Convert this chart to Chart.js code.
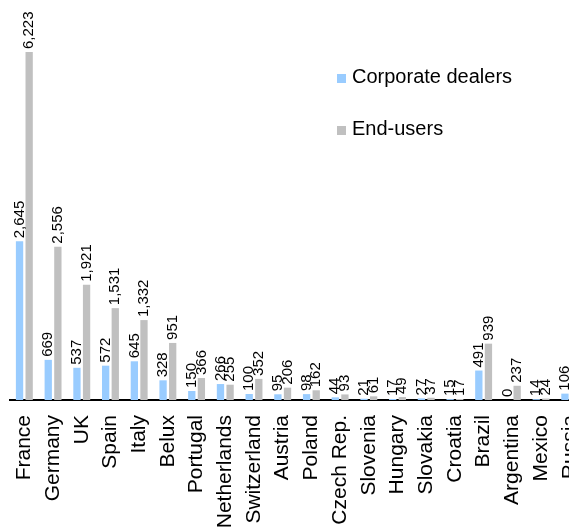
<!DOCTYPE html>
<html>
<head>
<meta charset="utf-8">
<script src="https://cdn.jsdelivr.net/npm/chart.js@4"></script>
<style>
  html, body { margin: 0; padding: 0; background: #fff; overflow: hidden; }
  #wrap { position: relative; width: 602px; height: 560px; }
  #legend { position: absolute; left: 337px; top: 0; font-family: Arial, "Liberation Sans", sans-serif; font-size: 20px; color: #000; }
  .item { position: absolute; left: 0; white-space: nowrap; display: flex; align-items: center; }
  .box { width: 9px; height: 9px; margin-right: 6px; margin-top: 3px; }
</style>
</head>
<body>
<div id="wrap">
  <canvas id="chart" width="602" height="560"></canvas>
  <div id="legend"></div>
</div>
<script>
// countries and contract counts per client type
const countries = ["France", "Germany", "UK", "Spain", "Italy", "Belux", "Portugal", "Netherlands",
  "Switzerland", "Austria", "Poland", "Czech Rep.", "Slovenia", "Hungary", "Slovakia", "Croatia",
  "Brazil", "Argentina", "Mexico", "Russia"];
const corporateDealers = [2645, 669, 537, 572, 645, 328, 150, 266, 100, 95, 98, 44, 21, 17, 27, 15, 491, 0, 14, 106];
const endUsers = [6223, 2556, 1921, 1531, 1332, 951, 366, 255, 352, 206, 162, 93, 61, 49, 37, 17, 939, 237, 24, 150];
const seriesNames = ["Corporate dealers", "End-users"];
const seriesColors = ["#99CCFF", "#C0C0C0"];
const yMax = 5800; // France end-users runs off the top

// value labels sitting on top of each bar, written upwards
const barLabels = {
  id: "barLabels",
  afterDatasetsDraw(chart) {
    const ctx = chart.ctx;
    const top = chart.chartArea.top;
    ctx.save();
    ctx.font = "15px Arial, 'Liberation Sans', sans-serif";
    ctx.fillStyle = "#000";
    ctx.textAlign = "left";
    ctx.textBaseline = "middle";
    chart.data.datasets.forEach((ds, i) => {
      chart.getDatasetMeta(i).data.forEach((bar, j) => {
        const y = Math.max(bar.y, top) - 3;
        ctx.save();
        ctx.translate(bar.x, y);
        ctx.rotate(-Math.PI / 2);
        ctx.fillText(ds.data[j].toLocaleString("en-US"), 0, 0);
        ctx.restore();
      });
    });
    ctx.restore();
  }
};

const chart = new Chart(document.getElementById("chart"), {
  type: "bar",
  data: {
    labels: countries,
    datasets: [
      { label: seriesNames[0], data: corporateDealers, backgroundColor: seriesColors[0] },
      { label: seriesNames[1], data: endUsers, backgroundColor: seriesColors[1] }
    ]
  },
  options: {
    responsive: false,
    animation: false,
    devicePixelRatio: 1,
    categoryPercentage: 0.67,
    barPercentage: 0.76,
    layout: { padding: { left: 10, right: 2, top: 52, bottom: 0 } },
    plugins: {
      legend: { display: false },
      tooltip: { enabled: false }
    },
    scales: {
      x: {
        grid: { display: false },
        border: { display: true, color: "#000", width: 2 },
        ticks: {
          color: "#000",
          font: { family: "Arial, 'Liberation Sans', sans-serif", size: 21 },
          minRotation: 90,
          maxRotation: 90,
          autoSkip: false,
          padding: 7
        },
        afterFit(scale) { scale.height = 160; }
      },
      y: {
        display: false,
        min: 0,
        max: yMax
      }
    }
  },
  plugins: [barLabels]
});

// legend built from the datasets
const legendEl = document.getElementById("legend");
chart.data.datasets.forEach((ds, i) => {
  const item = document.createElement("div");
  item.className = "item";
  item.style.top = (65 + i * 52) + "px";
  const box = document.createElement("span");
  box.className = "box";
  box.style.background = ds.backgroundColor;
  const txt = document.createElement("span");
  txt.textContent = ds.label;
  item.appendChild(box);
  item.appendChild(txt);
  legendEl.appendChild(item);
});
</script>
</body>
</html>
